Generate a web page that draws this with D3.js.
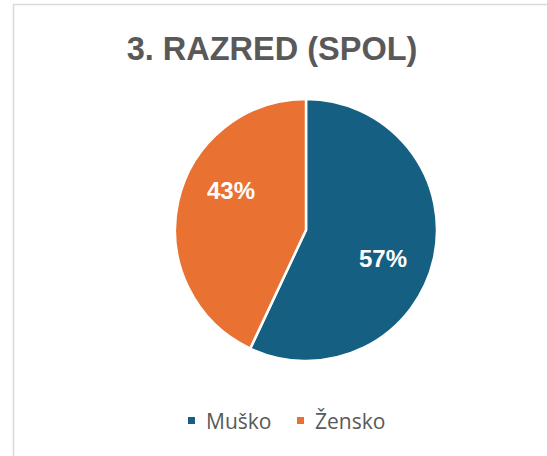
<!DOCTYPE html>
<html>
<head>
<meta charset="utf-8">
<script src="https://cdn.jsdelivr.net/npm/d3@7"></script>
<style>
  body { margin: 0; background: #fff; }
  svg { display: block; }
</style>
</head>
<body>
<svg id="chart" width="547" height="456"></svg>
<script>
// chart data
var categories = ["Muško", "Žensko"];
var shares = [57, 43];
var colorList = ["#156082", "#E97132"];
var chartTitle = "3. RAZRED (SPOL)";

var svg = d3.select("#chart");

// frame of the chart area (right/bottom edges fall outside the shot)
svg.append("rect")
    .attr("x", 13.5).attr("y", 4.5)
    .attr("width", 700).attr("height", 700)
    .attr("fill", "#fff")
    .attr("stroke", "#d9d9d9")
    .attr("stroke-width", 1.5);

// title
svg.append("text")
    .attr("x", 272)
    .attr("y", 60)
    .attr("text-anchor", "middle")
    .attr("font-family", "Liberation Sans, Arial, sans-serif")
    .attr("font-weight", "bold")
    .attr("font-size", 32.5)
    .attr("fill", "#595959")
    .text(chartTitle);

var cx = 306, cy = 230, r = 131;
var color = d3.scaleOrdinal().domain(categories).range(colorList);

var pie = d3.pie()
    .value(function(d, i) { return shares[i]; })
    .sort(null);

var arcs = pie(categories);

var arc = d3.arc().innerRadius(0).outerRadius(r);

var g = svg.append("g")
    .attr("transform", "translate(" + cx + "," + cy + ")");

g.selectAll("path.slice")
    .data(arcs)
    .enter()
    .append("path")
    .attr("class", "slice")
    .attr("d", arc)
    .attr("fill", function(d) { return color(d.data); })
    .attr("stroke", "#fff")
    .attr("stroke-width", 2.5)
    .attr("stroke-linejoin", "round");

// data labels, Excel-style nudged off the mid angle
var labelTurn = [0.13, 0.27]; // radians added to mid angle
var labelDist = [82, 85];
g.selectAll("text.lbl")
    .data(arcs)
    .enter()
    .append("text")
    .attr("class", "lbl")
    .attr("x", function(d, i) {
        var a = (d.startAngle + d.endAngle) / 2 + labelTurn[i];
        return Math.sin(a) * labelDist[i];
    })
    .attr("y", function(d, i) {
        var a = (d.startAngle + d.endAngle) / 2 + labelTurn[i];
        return -Math.cos(a) * labelDist[i];
    })
    .attr("dy", "0.36em")
    .attr("text-anchor", "middle")
    .attr("font-family", "Liberation Sans, Arial, sans-serif")
    .attr("font-weight", "bold")
    .attr("font-size", 24)
    .attr("fill", "#fff")
    .text(function(d, i) { return shares[i] + "%"; });

// legend
var legendY = 421;
var legendX = [188, 297];
var leg = svg.selectAll("g.leg")
    .data(categories)
    .enter()
    .append("g")
    .attr("class", "leg")
    .attr("transform", function(d, i) { return "translate(" + legendX[i] + "," + legendY + ")"; });

leg.append("rect")
    .attr("x", 0).attr("y", -4)
    .attr("width", 7).attr("height", 7)
    .attr("fill", function(d) { return color(d); });

leg.append("text")
    .attr("x", 18)
    .attr("y", 8)
    .attr("font-family", "Open Sans, sans-serif")
    .attr("font-size", 21)
    .attr("fill", "#595959")
    .text(function(d) { return d; });
</script>
</body>
</html>
